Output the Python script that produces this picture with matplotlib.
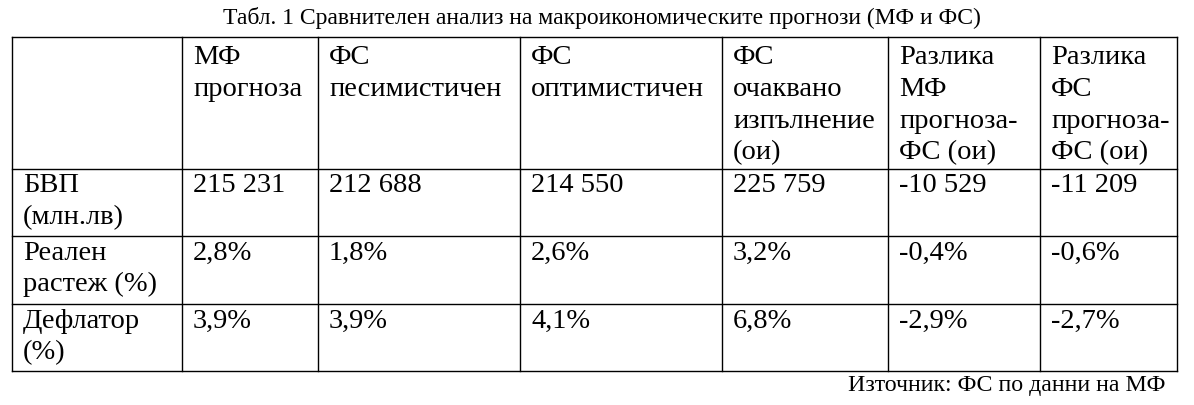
import matplotlib.pyplot as plt

title = 'Табл. 1 Сравнителен анализ на макроикономическите прогнози (МФ и ФС)'
source = 'Източник: ФС по данни на МФ'
headers = ['', 'МФ\nпрогноза', 'ФС\nпесимистичен', 'ФС\nоптимистичен',
           'ФС\nочаквано\nизпълнение\n(ои)', 'Разлика\nМФ\nпрогноза-\nФС (ои)',
           'Разлика\nФС\nпрогноза-\nФС (ои)']
row_labels = ['БВП\n(млн.лв)', 'Реален\nрастеж (%)', 'Дефлатор\n(%)']
gdp = ['215 231', '212 688', '214 550', '225 759', '-10 529', '-11 209']
growth = ['2,8%', '1,8%', '2,6%', '3,2%', '-0,4%', '-0,6%']
deflator = ['3,9%', '3,9%', '4,1%', '6,8%', '-2,9%', '-2,7%']

col_x = [12, 182, 318, 520, 722, 888, 1040, 1177]
row_y = [37, 169, 236, 304, 371]

plt.rcParams['font.family'] = ['Liberation Serif', 'DejaVu Serif']
fig = plt.figure(figsize=(11.94, 4.05), dpi=100)
ax = fig.add_axes([0, 0, 1, 1])
ax.set_xlim(0, 1194)
ax.set_ylim(405, 0)
ax.axis('off')

for x in col_x:
    ax.plot([x, x], [row_y[0], row_y[-1]], color='black', lw=1)
for y in row_y:
    ax.plot([col_x[0], col_x[-1]], [y, y], color='black', lw=1)

fs = 20.5
step = 31.7

def cell(text, c, r, off):
    for i, line in enumerate(text.split('\n')):
        ax.text(col_x[c] + 11, row_y[r] + off + step * i, line, fontsize=fs,
                va='center', ha='left')

for c, h in enumerate(headers):
    cell(h, c, 0, 21)
for r, vals in enumerate([gdp, growth, deflator]):
    cell(row_labels[r], 0, r + 1, 17)
    for c, v in enumerate(vals):
        cell(v, c + 1, r + 1, 17)

ax.text(602, 18, title, fontsize=17, ha='center', va='center')
ax.text(1165, 386, source, fontsize=17.2, ha='right', va='center')

fig.savefig('out.png', dpi=100)
